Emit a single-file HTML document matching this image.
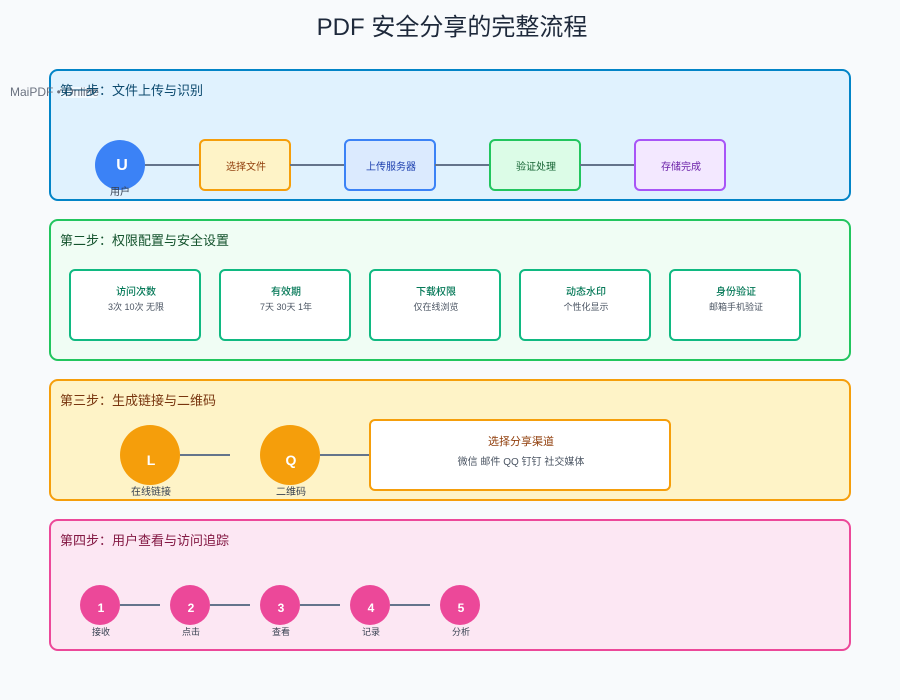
<!DOCTYPE html>
<html lang="zh">
<head>
<meta charset="utf-8">
<title>PDF 安全分享的完整流程</title>
<style>
html,body{margin:0;padding:0;background:#f8fafc;width:900px;height:700px;overflow:hidden}
svg{display:block;position:absolute;left:0;top:0}
text{font-family:"Liberation Sans","Noto Sans CJK SC",sans-serif}
.ln{stroke:#64748b;stroke-width:2}
.b{font-weight:bold}
.m{font-weight:500}
</style>
</head>
<body>
<svg width="900" height="700" viewBox="0 0 900 700" xmlns="http://www.w3.org/2000/svg">
<rect width="900" height="700" fill="#f8fafc"/>
<text x="452" y="35" font-size="24" fill="#1e293b" text-anchor="middle">PDF 安全分享的完整流程</text>

<!-- step 1 -->
<rect x="50" y="70" width="800" height="130" rx="8" fill="#e0f2fe" stroke="#0284c7" stroke-width="2"/>
<circle cx="120" cy="165" r="25" fill="#3b82f6"/>
<text x="122" y="170" font-size="16" class="b" fill="#fff" text-anchor="middle">U</text>
<text x="120" y="195" font-size="10" fill="#374151" text-anchor="middle">用户</text>
<line class="ln" x1="145" y1="165" x2="200" y2="165"/>
<rect x="200" y="140" width="90" height="50" rx="5" fill="#fef3c7" stroke="#f59e0b" stroke-width="2"/>
<text x="246" y="170" font-size="10" fill="#92400e" text-anchor="middle">选择文件</text>
<line class="ln" x1="290" y1="165" x2="345" y2="165"/>
<rect x="345" y="140" width="90" height="50" rx="5" fill="#dbeafe" stroke="#3b82f6" stroke-width="2"/>
<text x="391" y="170" font-size="10" fill="#1e40af" text-anchor="middle">上传服务器</text>
<line class="ln" x1="435" y1="165" x2="490" y2="165"/>
<rect x="490" y="140" width="90" height="50" rx="5" fill="#dcfce7" stroke="#22c55e" stroke-width="2"/>
<text x="536" y="170" font-size="10" fill="#166534" text-anchor="middle">验证处理</text>
<line class="ln" x1="580" y1="165" x2="635" y2="165"/>
<rect x="635" y="140" width="90" height="50" rx="5" fill="#f3e8ff" stroke="#a855f7" stroke-width="2"/>
<text x="681" y="170" font-size="10" fill="#6b21a8" text-anchor="middle">存储完成</text>

<!-- step 2 -->
<rect x="50" y="220" width="800" height="140" rx="8" fill="#f0fdf4" stroke="#22c55e" stroke-width="2"/>
<text x="60" y="245" font-size="13" fill="#14532d">第二步：权限配置与安全设置</text>
<rect x="70" y="270" width="130" height="70" rx="5" fill="#fff" stroke="#10b981" stroke-width="2"/>
<text x="136" y="295" font-size="10" class="m" fill="#047857" text-anchor="middle">访问次数</text>
<text x="136" y="310" font-size="9" fill="#4b5563" text-anchor="middle">3次 10次 无限</text>
<rect x="220" y="270" width="130" height="70" rx="5" fill="#fff" stroke="#10b981" stroke-width="2"/>
<text x="286" y="295" font-size="10" class="m" fill="#047857" text-anchor="middle">有效期</text>
<text x="286" y="310" font-size="9" fill="#4b5563" text-anchor="middle">7天 30天 1年</text>
<rect x="370" y="270" width="130" height="70" rx="5" fill="#fff" stroke="#10b981" stroke-width="2"/>
<text x="436" y="295" font-size="10" class="m" fill="#047857" text-anchor="middle">下载权限</text>
<text x="436" y="310" font-size="9" fill="#4b5563" text-anchor="middle">仅在线浏览</text>
<rect x="520" y="270" width="130" height="70" rx="5" fill="#fff" stroke="#10b981" stroke-width="2"/>
<text x="586" y="295" font-size="10" class="m" fill="#047857" text-anchor="middle">动态水印</text>
<text x="586" y="310" font-size="9" fill="#4b5563" text-anchor="middle">个性化显示</text>
<rect x="670" y="270" width="130" height="70" rx="5" fill="#fff" stroke="#10b981" stroke-width="2"/>
<text x="736" y="295" font-size="10" class="m" fill="#047857" text-anchor="middle">身份验证</text>
<text x="736" y="310" font-size="9" fill="#4b5563" text-anchor="middle">邮箱手机验证</text>

<!-- step 3 -->
<rect x="50" y="380" width="800" height="120" rx="8" fill="#fef3c7" stroke="#f59e0b" stroke-width="2"/>
<text x="60" y="405" font-size="13" fill="#78350f">第三步：生成链接与二维码</text>
<circle cx="150" cy="455" r="30" fill="#f59e0b"/>
<text x="151" y="465" font-size="14" class="b" fill="#fff" text-anchor="middle">L</text>
<text x="151" y="495" font-size="10" fill="#374151" text-anchor="middle">在线链接</text>
<line class="ln" x1="180" y1="455" x2="230" y2="455"/>
<circle cx="290" cy="455" r="30" fill="#f59e0b"/>
<text x="291" y="465" font-size="14" class="b" fill="#fff" text-anchor="middle">Q</text>
<text x="291" y="495" font-size="10" fill="#374151" text-anchor="middle">二维码</text>
<line class="ln" x1="320" y1="455" x2="370" y2="455"/>
<rect x="370" y="420" width="300" height="70" rx="5" fill="#fff" stroke="#f59e0b" stroke-width="2"/>
<text x="521" y="445" font-size="11" fill="#92400e" text-anchor="middle">选择分享渠道</text>
<text x="521" y="465" font-size="10" fill="#4b5563" text-anchor="middle">微信 邮件 QQ 钉钉 社交媒体</text>

<!-- step 4 -->
<rect x="50" y="520" width="800" height="130" rx="8" fill="#fce7f3" stroke="#ec4899" stroke-width="2"/>
<text x="60" y="545" font-size="13" fill="#831843">第四步：用户查看与访问追踪</text>
<circle cx="100" cy="605" r="20" fill="#ec4899"/>
<text x="101" y="612" font-size="12" class="b" fill="#fff" text-anchor="middle">1</text>
<text x="101" y="635" font-size="9" fill="#374151" text-anchor="middle">接收</text>
<line class="ln" x1="120" y1="605" x2="160" y2="605"/>
<circle cx="190" cy="605" r="20" fill="#ec4899"/>
<text x="191" y="612" font-size="12" class="b" fill="#fff" text-anchor="middle">2</text>
<text x="191" y="635" font-size="9" fill="#374151" text-anchor="middle">点击</text>
<line class="ln" x1="210" y1="605" x2="250" y2="605"/>
<circle cx="280" cy="605" r="20" fill="#ec4899"/>
<text x="281" y="612" font-size="12" class="b" fill="#fff" text-anchor="middle">3</text>
<text x="281" y="635" font-size="9" fill="#374151" text-anchor="middle">查看</text>
<line class="ln" x1="300" y1="605" x2="340" y2="605"/>
<circle cx="370" cy="605" r="20" fill="#ec4899"/>
<text x="371" y="612" font-size="12" class="b" fill="#fff" text-anchor="middle">4</text>
<text x="371" y="635" font-size="9" fill="#374151" text-anchor="middle">记录</text>
<line class="ln" x1="390" y1="605" x2="430" y2="605"/>
<circle cx="460" cy="605" r="20" fill="#ec4899"/>
<text x="461" y="612" font-size="12" class="b" fill="#fff" text-anchor="middle">5</text>
<text x="461" y="635" font-size="9" fill="#374151" text-anchor="middle">分析</text>

<!-- watermark, drawn under the first step title -->
<rect x="60" y="87" width="38" height="11" rx="3" fill="#fff" fill-opacity="0.6"/>
<text x="10" y="96" font-size="12" fill="#6b7280">MaiPDF • Online</text>
<line x1="60" y1="90" x2="98" y2="90" stroke="#475569" stroke-width="1"/>
<text x="60" y="95" font-size="13" fill="#0c4a6e">第一步：文件上传与识别</text>
</svg>
</body>
</html>
